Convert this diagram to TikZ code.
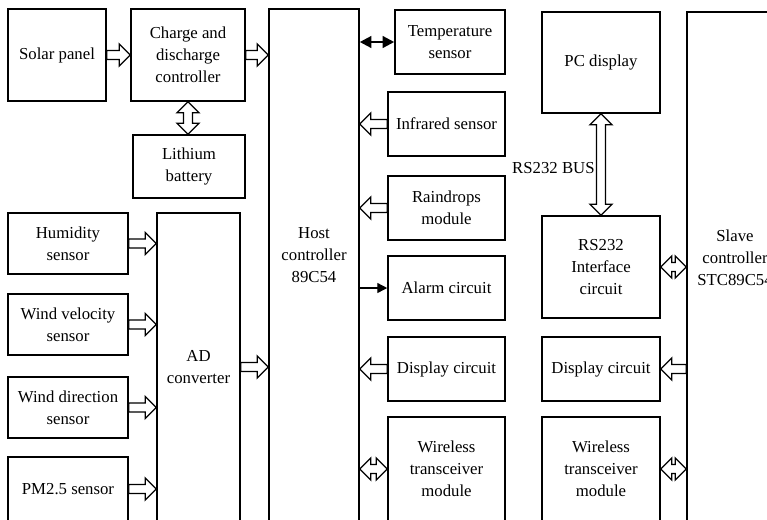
\documentclass[tikz,border=0pt]{standalone}
\usepackage{fontspec}
\setmainfont{Liberation Serif}
\usetikzlibrary{calc,arrows.meta}

% hollow block arrows, tip at the target
\tikzset{
  hollow/.style={draw, fill=white, line width=1.1pt, line join=miter, to path={
    let \p1=($(\tikztotarget)!9.4pt!(\tikztostart)$) in
    ($(\tikztostart)!3.8pt!90:(\tikztotarget)$) --
    ($(\p1)!3.8pt!90:(\tikztotarget)$) -- ($(\p1)!9.4pt!90:(\tikztotarget)$) --
    (\tikztotarget) --
    ($(\p1)!9.4pt!-90:(\tikztotarget)$) -- ($(\p1)!3.8pt!-90:(\tikztotarget)$) --
    ($(\tikztostart)!3.8pt!-90:(\tikztotarget)$) -- cycle}},
  hollowboth/.style={draw, fill=white, line width=1.1pt, line join=miter, to path={
    let \p1=($(\tikztotarget)!9.4pt!(\tikztostart)$),
        \p2=($(\tikztostart)!9.4pt!(\tikztotarget)$) in
    (\tikztostart) --
    ($(\p2)!9.4pt!90:(\tikztotarget)$) -- ($(\p2)!3.8pt!90:(\tikztotarget)$) --
    ($(\p1)!3.8pt!90:(\tikztotarget)$) -- ($(\p1)!9.4pt!90:(\tikztotarget)$) --
    (\tikztotarget) --
    ($(\p1)!9.4pt!-90:(\tikztotarget)$) -- ($(\p1)!3.8pt!-90:(\tikztotarget)$) --
    ($(\p2)!3.8pt!-90:(\tikztotarget)$) -- ($(\p2)!9.4pt!-90:(\tikztotarget)$) -- cycle}}
}

\begin{document}
\begin{tikzpicture}[
  x=0.03cm, y=-0.03cm,
  font=\fontsize{14.3}{18.8}\selectfont,
  box/.style={draw, line width=1.3pt, align=center, inner sep=1pt},
  sz/.style 2 args={minimum width=#1*0.03cm, minimum height=#2*0.03cm},
  thinarrow/.style={line width=1.2pt, -{Triangle[length=8.5pt, width=8.5pt]}},
  fatboth/.style={line width=2pt, {Triangle[length=10pt, width=10pt]}-{Triangle[length=10pt, width=10pt]}}
]
\clip (0,0) rectangle (767,519);

% power part
\node[box, sz={98}{92}] (solar) at (57,55) {Solar panel};
\node[box, sz={114}{92}] (charge) at (188,55) {Charge and\\discharge\\controller};
\node[box, sz={112}{63}] (lith) at (189,166.5) {Lithium\\battery};

% sensors and AD
\node[box, sz={120}{61}] (hum) at (68,243.5) {Humidity\\sensor};
\node[box, sz={120}{61}] (wvel) at (68,324.5) {Wind velocity\\sensor};
\node[box, sz={120}{61}] (wdir) at (68,407.5) {Wind direction\\sensor};
\node[box, sz={120}{64}] (pm) at (68,489) {PM2.5 sensor};
\node[box, sz={83}{308}] (ad) at (198.5,367) {AD\\converter};

% host
\node[box, sz={90}{512},
  label={[align=center, yshift=8.5pt]center:Host\\controller\\89C54}] (host) at (314,265) {};
\node[box, sz={110}{64}] (temp) at (450,42) {Temperature\\sensor};
\node[box, sz={117}{64}] (ir) at (446.5,124) {Infrared sensor};
\node[box, sz={117}{64}] (rain) at (446.5,208) {Raindrops\\module};
\node[box, sz={117}{64}] (alarm) at (446.5,288) {Alarm circuit};
\node[box, sz={117}{64}] (disp) at (446.5,369) {Display circuit};
\node[box, sz={117}{104}] (wl) at (446.5,469) {Wireless\\transceiver\\module};

% slave
\node[box, sz={118}{101}] (pc) at (601,62.5) {PC display};
\node[box, sz={118}{102}] (rs) at (601,267) {RS232\\Interface\\circuit};
\node[box, sz={118}{64}] (sdisp) at (601,369) {Display circuit};
\node[box, sz={118}{104}] (swl) at (601,469) {Wireless\\transceiver\\module};
\node[box, sz={96}{509},
  label={[align=center, yshift=7.3pt]center:Slave\\controller\\STC89C54}] (slave) at (735,266.5) {};

\node[anchor=east, inner sep=1pt] (bus) at ($(pc.south)!0.53!(rs.north)+(-5,0)$) {RS232 BUS};

% arrows
\draw[hollow] (solar.east) to (charge.west);
\draw[hollow] (charge.east) to (charge.east -| host.west);
\draw[hollowboth] (charge.south) to (charge.south |- lith.north);
\draw[hollow] (hum.east) to (hum.east -| ad.west);
\draw[hollow] (wvel.east) to (wvel.east -| ad.west);
\draw[hollow] (wdir.east) to (wdir.east -| ad.west);
\draw[hollow] (pm.east) to (pm.east -| ad.west);
\draw[hollow] (ad.east) to (ad.east -| host.west);

\draw[fatboth] (temp.west -| host.east) -- (temp.west);
\draw[hollow] (ir.west) to (ir.west -| host.east);
\draw[hollow] (rain.west) to (rain.west -| host.east);
\draw[thinarrow] (alarm.west -| host.east) -- (alarm.west);
\draw[hollow] (disp.west) to (disp.west -| host.east);
\draw[hollowboth] (wl.west -| host.east) to (wl.west);

\draw[hollowboth] (pc.south) to (rs.north);
\draw[hollowboth] (rs.east) to (rs.east -| slave.west);
\draw[hollow] (sdisp.east -| slave.west) to (sdisp.east);
\draw[hollowboth] (swl.east) to (swl.east -| slave.west);

\end{tikzpicture}
\end{document}
